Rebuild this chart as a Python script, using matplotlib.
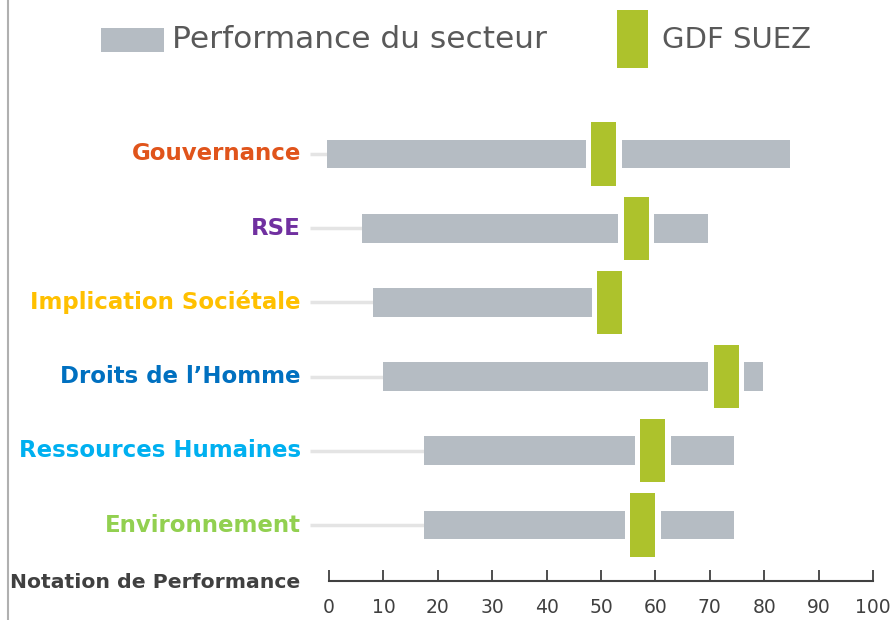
import matplotlib
matplotlib.use("Agg")
import matplotlib.pyplot as plt
from matplotlib.patches import Rectangle

categories = ["Gouvernance", "RSE", "Implication Sociétale", "Droits de l\u2019Homme",
              "Ressources Humaines", "Environnement"]
label_colors = ["#e0541b", "#7030a0", "#ffc000", "#0070c0", "#00b0f0", "#92d050"]
sector_min = [-0.3, 6, 8, 10, 17.5, 17.5]
sector_max = [84.7, 69.7, 53, 79.8, 74.4, 74.4]
gdf_score = [50.5, 56.5, 51.6, 73.0, 59.5, 57.7]
ticks = [0, 10, 20, 30, 40, 50, 60, 70, 80, 90, 100]

GRAY = "#b5bcc3"
GREEN = "#adc22c"

W, H = 890, 620
fig = plt.figure(figsize=(W / 100, H / 100), dpi=100)

def px(v):
    return 329 + 5.44 * v

left_v, right_v = -4, 101
ax = fig.add_axes([px(left_v) / W, 0, (px(right_v) - px(left_v)) / W, 1])
y0, dy = 154, 74.2
ax.set_xlim(left_v, right_v)
ax.set_ylim((H - y0) / dy, -y0 / dy)
ax.set_facecolor("none")

bar_h = 0.39
green_h = 0.85
green_w = 4.6
gap = 1.0
for i, cat in enumerate(categories):
    ax.plot([-3.5, sector_min[i]], [i, i], color="#e4e4e4", lw=2.5, zorder=1,
            solid_capstyle="butt")
    ax.barh(i, sector_max[i] - sector_min[i], left=sector_min[i], height=bar_h,
            color=GRAY, zorder=2)
    ax.add_patch(Rectangle((gdf_score[i] - green_w / 2 - gap, i - bar_h / 2 - 0.01),
                           green_w + 2 * gap, bar_h + 0.02, facecolor="white",
                           edgecolor="none", zorder=3))
    ax.add_patch(Rectangle((gdf_score[i] - green_w / 2, i - green_h / 2),
                           green_w, green_h, facecolor=GREEN, edgecolor="none",
                           zorder=4))
    fig.text(301 / W, 1 - (y0 + dy * i) / H, cat, ha="right", va="center",
             fontsize=16.5, fontweight="bold", color=label_colors[i])

for s in ["top", "right", "left"]:
    ax.spines[s].set_visible(False)
axis_y = (581 - y0) / dy
ax.spines["bottom"].set_position(("data", axis_y))
ax.spines["bottom"].set_bounds(0, 100)
ax.spines["bottom"].set_color("#404040")
ax.spines["bottom"].set_linewidth(1.5)
ax.set_yticks([])
ax.set_xticks(ticks)
ax.set_xticklabels([str(t) for t in ticks], fontsize=13.5, color="#404040")
ax.tick_params(axis="x", direction="in", length=8, width=1.3, color="#404040", pad=12)
ax.set_xticks([0, 100], minor=True)
ax.tick_params(axis="x", which="minor", direction="inout", length=16, width=1.3,
               color="#404040")

fig.text(10 / W, 1 - 583 / H, "Notation de Performance", ha="left", va="center",
         fontsize=14.7, fontweight="bold", color="#404040")

# legend
fig.patches.append(Rectangle((101 / W, 1 - 52 / H), 63 / W, 24 / H,
                             transform=fig.transFigure, facecolor=GRAY,
                             edgecolor="none"))
fig.text(172 / W, 1 - 40 / H, "Performance du secteur", ha="left", va="center",
         fontsize=22.5, color="#595959")
fig.patches.append(Rectangle((617 / W, 1 - 68 / H), 31 / W, 58 / H,
                             transform=fig.transFigure, facecolor=GREEN,
                             edgecolor="none"))
fig.text(662 / W, 1 - 40 / H, "GDF SUEZ", ha="left", va="center",
         fontsize=21, color="#595959")

# left border line
fig.add_artist(plt.Line2D([7.5 / W, 7.5 / W], [0, 1], transform=fig.transFigure,
                          color="#b0b0b0", lw=1.5))

fig.savefig("out.png", dpi=100)
